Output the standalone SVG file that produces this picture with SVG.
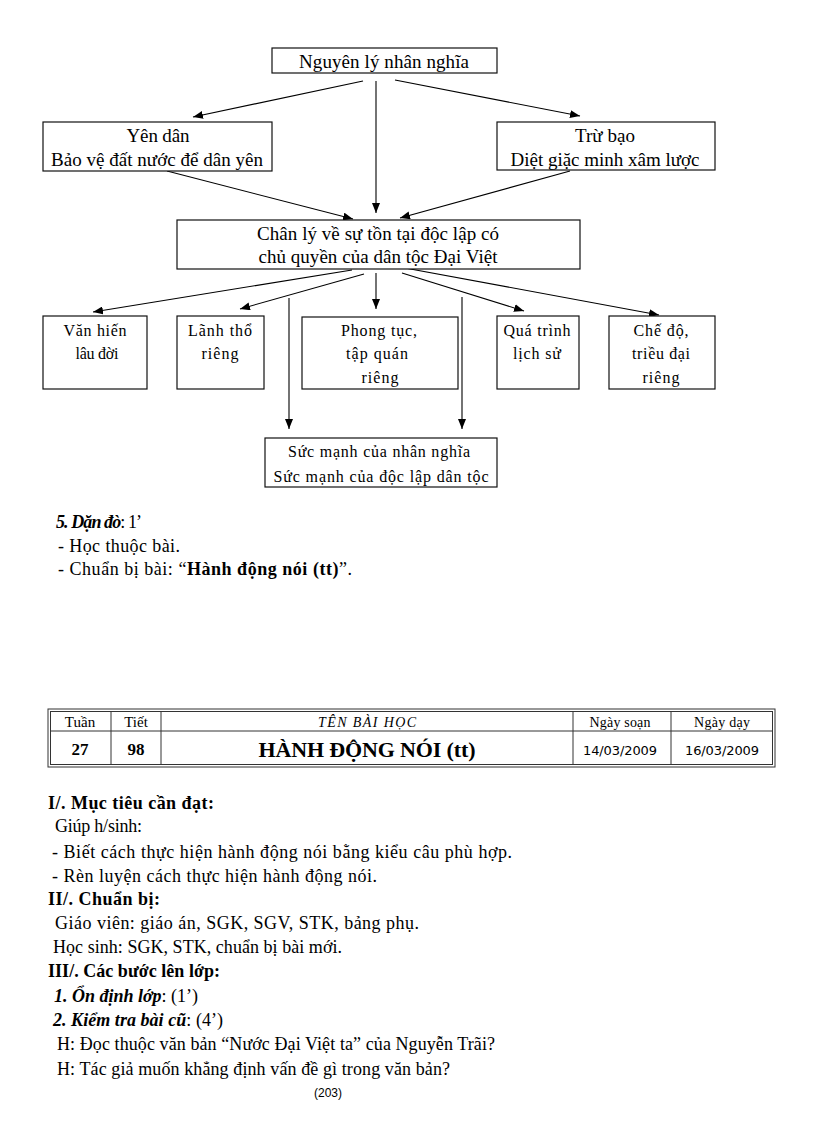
<svg xmlns="http://www.w3.org/2000/svg" width="816" height="1123" viewBox="0 0 816 1123">
<style>
.bx{fill:#fff;stroke:#111;stroke-width:1.2}
.t{font-family:"Liberation Serif","Times New Roman",serif;fill:#000}
.n18{font-size:19px;text-anchor:middle}
.n16{font-size:16px;text-anchor:middle}
.p{font-size:18px}
.b{font-weight:bold}
.bi{font-weight:bold;font-style:italic}
.c{stroke:#000;stroke-width:1.1;fill:none;marker-end:url(#ah)}
.tl{stroke:#333;stroke-width:1;fill:none}
.s{font-family:"DejaVu Sans","Liberation Sans",sans-serif;fill:#000}
</style>
<defs>
<marker id="ah" markerUnits="userSpaceOnUse" markerWidth="10" markerHeight="8" refX="10" refY="4" orient="auto">
<path d="M0,0 L10,4 L0,8 z" fill="#000"/>
</marker>
</defs>
<rect width="816" height="1123" fill="#fff"/>

<g id="connectors">
<line class="c" x1="363" y1="81" x2="193" y2="117"/>
<line class="c" x1="376" y1="81" x2="376" y2="213"/>
<line class="c" x1="395" y1="80" x2="580" y2="116"/>
<line class="c" x1="167" y1="171" x2="353" y2="219"/>
<line class="c" x1="570" y1="171" x2="400" y2="218"/>
<line class="c" x1="352" y1="270" x2="93" y2="312"/>
<line class="c" x1="364" y1="274" x2="240" y2="309"/>
<line class="c" x1="376" y1="273" x2="376" y2="309"/>
<line class="c" x1="402" y1="273" x2="524" y2="311"/>
<line class="c" x1="405" y1="268" x2="659" y2="315"/>
<line class="c" x1="289" y1="298" x2="289" y2="429"/>
<line class="c" x1="462" y1="297" x2="462" y2="429"/>
</g>

<g id="n-nguyenly">
<rect class="bx" x="272" y="48" width="225" height="25"/>
<text class="t n18" x="384" y="68" textLength="170">Nguyên lý nhân nghĩa</text>
</g>
<g id="n-yendan">
<rect class="bx" x="43" y="122" width="229" height="49"/>
<text class="t n18" x="158" y="142" textLength="63">Yên dân</text>
<text class="t n18" x="157" y="166" textLength="212">Bảo vệ đất nước để dân yên</text>
</g>
<g id="n-trubao">
<rect class="bx" x="497" y="122" width="218" height="48"/>
<text class="t n18" x="605" y="142" textLength="60">Trừ bạo</text>
<text class="t n18" x="605" y="166" textLength="189">Diệt giặc minh xâm lược</text>
</g>
<g id="n-chanly">
<rect class="bx" x="177" y="220" width="403" height="49"/>
<text class="t n18" x="378" y="240" textLength="242">Chân lý về sự tồn tại độc lập có</text>
<text class="t n18" x="378" y="263" textLength="239">chủ quyền của dân tộc Đại Việt</text>
</g>
<g id="n-vanhien">
<rect class="bx" x="43" y="316" width="104" height="73"/>
<text class="t n16" x="95" y="336" textLength="63">Văn hiến</text>
<text class="t n16" x="97" y="359" textLength="43">lâu đời</text>
</g>
<g id="n-lanhtho">
<rect class="bx" x="177" y="316" width="87" height="73"/>
<text class="t n16" x="220" y="336" textLength="64">Lãnh thổ</text>
<text class="t n16" x="220" y="359" textLength="37">riêng</text>
</g>
<g id="n-phongtuc">
<rect class="bx" x="302" y="317" width="156" height="72"/>
<text class="t n16" x="379" y="336" textLength="76">Phong tục,</text>
<text class="t n16" x="377" y="359" textLength="62">tập quán</text>
<text class="t n16" x="380" y="383" textLength="37">riêng</text>
</g>
<g id="n-quatrinh">
<rect class="bx" x="497" y="316" width="82" height="73"/>
<text class="t n16" x="537" y="336" textLength="67">Quá trình</text>
<text class="t n16" x="537" y="359" textLength="48">lịch sử</text>
</g>
<g id="n-chedo">
<rect class="bx" x="609" y="316" width="106" height="73"/>
<text class="t n16" x="661" y="336" textLength="55">Chế độ,</text>
<text class="t n16" x="661" y="359" textLength="58">triều đại</text>
<text class="t n16" x="661" y="383" textLength="37">riêng</text>
</g>
<g id="n-sucmanh">
<rect class="bx" x="265" y="438" width="232" height="49"/>
<text class="t n16" x="379" y="457" textLength="182">Sức mạnh của nhân nghĩa</text>
<text class="t n16" x="381" y="482" textLength="215">Sức mạnh của độc lập dân tộc</text>
</g>

<g id="dando">
<text class="t p" x="56" y="528" textLength="86"><tspan class="bi">5. Dặn đò</tspan>: 1’</text>
<text class="t p" x="58" y="552" textLength="122">- Học thuộc bài.</text>
<text class="t p" x="58" y="575" textLength="294">- Chuẩn bị bài: “<tspan class="b">Hành động nói (tt)</tspan>”.</text>
</g>

<g id="table">
<rect class="tl" x="48" y="709" width="727" height="58"/>
<rect class="tl" x="50.5" y="711.5" width="722" height="53"/>
<line class="tl" x1="50.5" y1="731" x2="772.5" y2="731"/>
<line class="tl" x1="111" y1="711.5" x2="111" y2="764.5"/>
<line class="tl" x1="161" y1="711.5" x2="161" y2="764.5"/>
<line class="tl" x1="573" y1="711.5" x2="573" y2="764.5"/>
<line class="tl" x1="671" y1="711.5" x2="671" y2="764.5"/>
<text class="t" font-size="15" text-anchor="middle" x="80" y="727">Tuần</text>
<text class="t" font-size="15" text-anchor="middle" x="136" y="727">Tiết</text>
<text class="t" font-size="14" font-style="italic" text-anchor="middle" x="367" y="727" textLength="98">TÊN BÀI HỌC</text>
<text class="t" font-size="14" text-anchor="middle" x="620" y="727" textLength="61">Ngày soạn</text>
<text class="t" font-size="14" text-anchor="middle" x="722" y="727" textLength="56">Ngày dạy</text>
<text class="t b" font-size="17" text-anchor="middle" x="80" y="755">27</text>
<text class="t b" font-size="17" text-anchor="middle" x="136" y="755">98</text>
<text class="t b" font-size="22" text-anchor="middle" x="367" y="757" textLength="217">HÀNH ĐỘNG NÓI (tt)</text>
<text class="s" font-size="13" text-anchor="middle" x="620" y="755" textLength="74">14/03/2009</text>
<text class="s" font-size="13" text-anchor="middle" x="722" y="755" textLength="74">16/03/2009</text>
</g>

<g id="body">
<text class="t p b" x="48" y="809" textLength="166">I/. Mục tiêu cần đạt:</text>
<text class="t p" x="55" y="832" textLength="87">Giúp h/sinh:</text>
<text class="t p" x="52" y="858" textLength="460">- Biết cách thực hiện hành động nói bằng kiểu câu phù hợp.</text>
<text class="t p" x="52" y="882" textLength="325">- Rèn luyện cách thực hiện hành động nói.</text>
<text class="t p b" x="48" y="905" textLength="112">II/. Chuẩn bị:</text>
<text class="t p" x="55" y="929" textLength="364">Giáo viên: giáo án, SGK, SGV, STK, bảng phụ.</text>
<text class="t p" x="53" y="953" textLength="289">Học sinh: SGK, STK, chuẩn bị bài mới.</text>
<text class="t p b" x="48" y="977" textLength="172">III/. Các bước lên lớp:</text>
<text class="t p" x="54" y="1002" textLength="144"><tspan class="bi">1. Ổn định lớp</tspan>: (1’)</text>
<text class="t p" x="53" y="1026" textLength="170"><tspan class="bi">2. Kiểm tra bài cũ</tspan>: (4’)</text>
<text class="t p" x="57" y="1050" textLength="438">H: Đọc thuộc văn bản “Nước Đại Việt ta” của Nguyễn Trãi?</text>
<text class="t p" x="57" y="1075" textLength="393">H: Tác giả muốn khẳng định vấn đề gì trong văn bản?</text>
<text x="328" y="1097" font-family="Liberation Sans, Arial, sans-serif" font-size="12" text-anchor="middle">(203)</text>
</g>
</svg>
